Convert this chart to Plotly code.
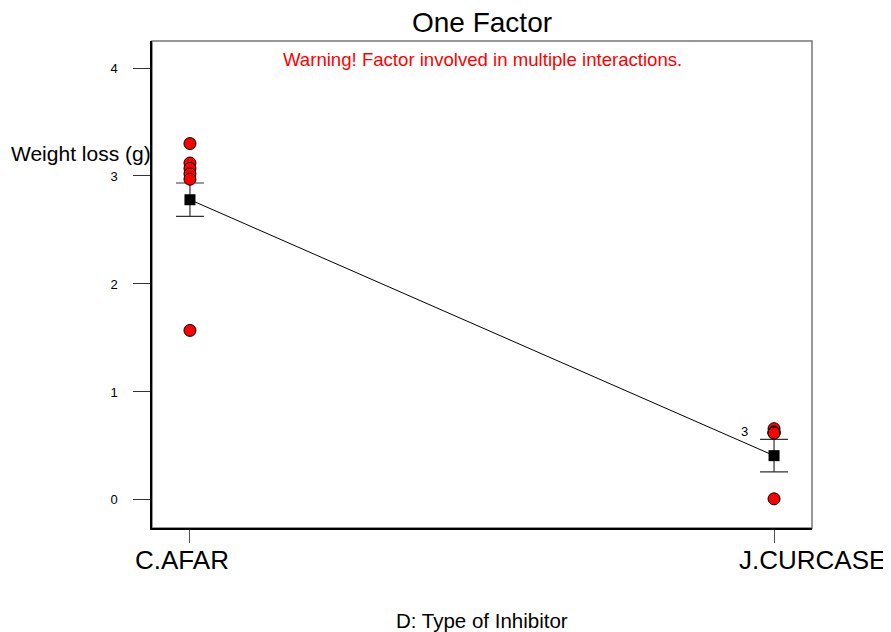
import plotly.graph_objects as go

categories = ["C.AFAR", "J.CURCASE"]
cafar_points = [3.30, 3.12, 3.07, 3.02, 2.97, 1.57]
jcurcase_points = [0.66, 0.63, 0.62, 0.62, 0.62, 0.01]
means = [2.78, 0.41]
errors = [0.155, 0.15]
y_ticks = [0, 1, 2, 3, 4]
label_shift = [-8, 38]

FONT = "Liberation Sans, Arial, sans-serif"

fig = go.Figure()

# connecting line between means
fig.add_trace(go.Scatter(x=categories, y=means, mode="lines",
                         line=dict(color="black", width=1), hoverinfo="skip"))

# error bars + mean squares
fig.add_trace(go.Scatter(
    x=categories, y=means, mode="markers",
    marker=dict(symbol="square", size=11, color="black"),
    error_y=dict(type="data", array=errors, visible=True, color="#333333",
                 thickness=1.2, width=14)))

# design points
fig.add_trace(go.Scatter(
    x=[categories[0]] * len(cafar_points), y=cafar_points, mode="markers",
    marker=dict(size=12, color="red", line=dict(color="black", width=1))))
fig.add_trace(go.Scatter(
    x=[categories[1]] * len(jcurcase_points), y=jcurcase_points, mode="markers",
    marker=dict(size=12, color="red", line=dict(color="black", width=1))))

PH = 487.0
annotations = [
    dict(text="Warning! Factor involved in multiple interactions.", xref="paper", yref="paper",
         x=0.5, y=(520 - 51) / PH, xanchor="center", yanchor="middle", showarrow=False,
         font=dict(family=FONT, size=18.6, color="red")),
    dict(text="Weight loss (g)", xref="paper", yref="paper", x=0, y=(520 - 145) / PH,
         xanchor="right", yanchor="middle", xshift=1, showarrow=False,
         font=dict(family=FONT, size=21, color="black")),
    dict(text="D: Type of Inhibitor", xref="paper", yref="paper", x=0.5, y=(520 - 612) / PH,
         xanchor="center", yanchor="middle", showarrow=False,
         font=dict(family=FONT, size=20.5, color="black")),
    dict(text="3", xref="x", yref="y", x=categories[1], y=0.63, xshift=-30,
         showarrow=False, font=dict(family=FONT, size=13, color="black")),
]
for cat, sh in zip(categories, label_shift):
    annotations.append(dict(text=cat, xref="x", yref="paper", x=cat, y=(520 - 552) / PH,
                            xanchor="center", yanchor="middle", xshift=sh, showarrow=False,
                            font=dict(family=FONT, size=26, color="black")))

fig.update_layout(
    width=891, height=632,
    margin=dict(l=144, r=87, t=33, b=112),
    paper_bgcolor="white", plot_bgcolor="white",
    showlegend=False,
    title=dict(text="One Factor", x=(144 + 804) / 2 / 891, xanchor="center",
               y=1 - 14 / 632, yanchor="middle",
               font=dict(family=FONT, size=28, color="black")),
    xaxis=dict(type="category", range=[-0.065, 1.065], showgrid=False, zeroline=False,
               showline=True, linecolor="black", linewidth=1.5,
               ticks="outside", ticklen=13, tickcolor="#555555", showticklabels=False),
    yaxis=dict(range=[-0.26, 4.25], tickvals=y_ticks, showgrid=False, zeroline=False,
               showline=True, linecolor="black", linewidth=1.5,
               ticks="outside", ticklen=17, tickcolor="#333333",
               ticklabelstandoff=13,
               tickfont=dict(family=FONT, size=13, color="black")),
    shapes=[dict(type="rect", xref="paper", yref="paper", x0=0, y0=0, x1=1, y1=1,
                 line=dict(color="#777777", width=1.5), layer="below")],
    annotations=annotations,
)

fig.write_html("out.html")
